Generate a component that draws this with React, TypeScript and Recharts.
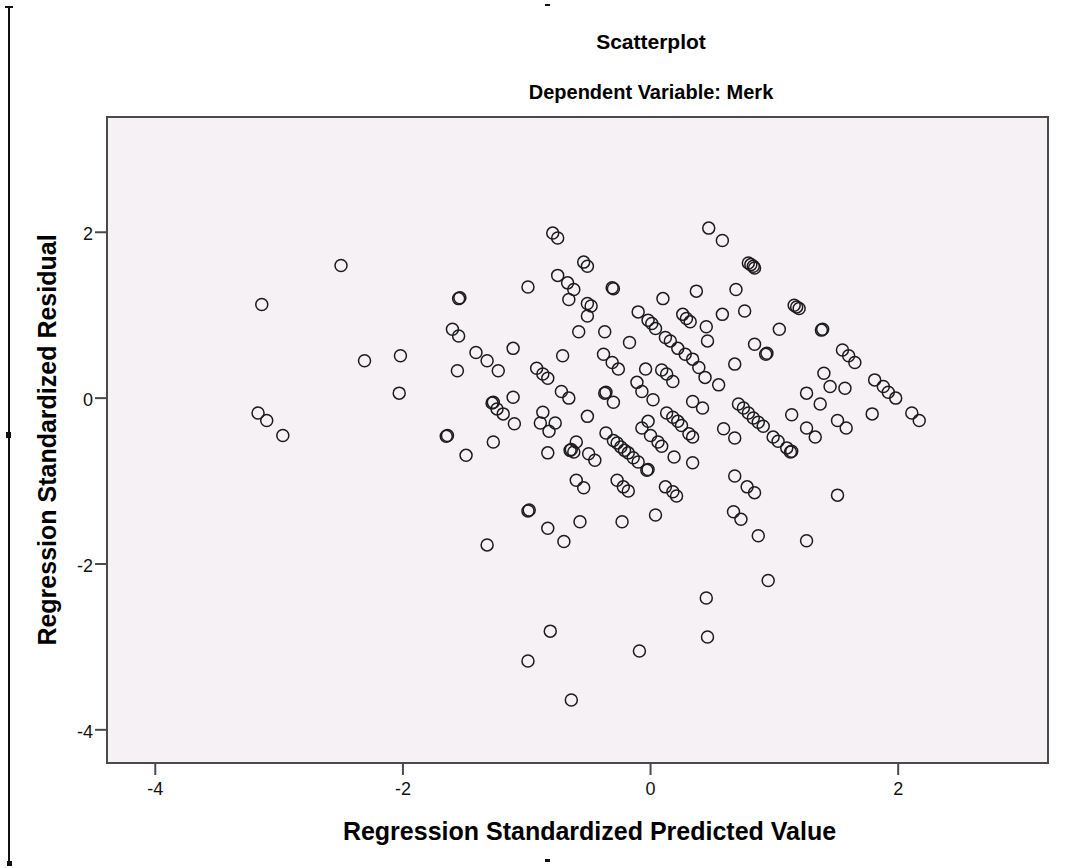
import { ScatterChart, Scatter, XAxis, YAxis, CartesianGrid, ReferenceArea } from 'recharts'

// standardized predicted values (x) and residuals (y)
const predicted = [
  -3.14, -3.17, -3.1, -2.97, -2.5, -2.31, -2.02, -2.03, -1.65, -1.64,
  -1.55, -1.54, -1.6, -1.55, -1.56, -1.49, -1.41, -1.32, -1.23, -1.11,
  -0.99, -0.79, -0.75, -0.54, -0.51, -0.75, -0.67, -0.62, -0.66, -0.51,
  -0.48, -0.51, -0.31, -0.3, 0.1, 0.37, -0.1, -0.02, 0.01, 0.04,
  0.26, 0.29, 0.32, 0.45, 0.46, 0.12, 0.16, 0.22, 0.28, 0.34,
  0.39, 0.44, -0.58, -0.37, -0.17, -0.71, -0.38, -0.31, -0.26, -0.04,
  0.09, 0.13, 0.18, -0.92, -0.87, -0.83, -0.11, 0.47, 0.58, 0.79,
  0.81, 0.83, 0.84, 0.69, 1.16, 1.18, 1.2, 0.58, 0.76, 1.04,
  1.38, 1.39, 0.84, 0.93, 0.94, 0.68, 1.55, 1.6, 1.65, 1.4,
  0.55, 1.81, 1.88, 1.45, 1.57, 1.92, 1.98, -1.11, -1.28, -1.27,
  -1.24, -1.19, -1.1, -1.27, -0.72, -0.66, -0.87, -0.89, -0.77, -0.82,
  -0.83, -0.51, -0.6, -0.65, -0.64, -0.62, -0.5, -0.45, -0.37, -0.36,
  -0.3, -0.36, -0.3, -0.27, -0.24, -0.21, -0.18, -0.14, -0.1, -0.03,
  -0.02, -0.6, -0.54, -0.27, -0.22, -0.18, -0.07, 0.02, -0.02, -0.07,
  0.0, 0.06, 0.09, 0.13, 0.18, 0.22, 0.25, 0.19, 0.31, 0.34,
  0.34, 0.42, 0.34, 0.12, 0.18, 0.21, -0.99, -0.98, -0.83, -0.57,
  -0.23, 0.04, -0.7, -1.32, 0.71, 0.75, 0.79, 0.83, 0.87, 0.91,
  0.59, 0.68, 0.99, 1.03, 1.1, 1.13, 1.14, 1.14, 1.26, 1.37,
  1.33, 1.26, 1.51, 1.58, 1.79, 2.11, 2.17, 0.68, 0.78, 0.84,
  1.51, 0.67, 0.73, 0.87, 1.26, -0.81, -0.99, -0.09, -0.64, 0.95,
  0.45, 0.46,
]

const residual = [
  1.13, -0.18, -0.27, -0.45, 1.6, 0.45, 0.51, 0.06, -0.46, -0.45,
  1.2, 1.21, 0.83, 0.75, 0.33, -0.69, 0.55, 0.45, 0.33, 0.6,
  1.34, 1.99, 1.93, 1.64, 1.59, 1.48, 1.39, 1.31, 1.19, 1.14,
  1.11, 0.99, 1.33, 1.32, 1.2, 1.29, 1.04, 0.94, 0.9, 0.84,
  1.01, 0.96, 0.92, 0.86, 0.69, 0.73, 0.69, 0.6, 0.53, 0.47,
  0.37, 0.25, 0.8, 0.8, 0.67, 0.51, 0.53, 0.43, 0.35, 0.35,
  0.34, 0.29, 0.2, 0.36, 0.29, 0.24, 0.19, 2.05, 1.9, 1.63,
  1.61, 1.59, 1.57, 1.31, 1.12, 1.1, 1.08, 1.01, 1.05, 0.83,
  0.82, 0.83, 0.65, 0.53, 0.54, 0.41, 0.58, 0.51, 0.43, 0.3,
  0.16, 0.22, 0.14, 0.14, 0.12, 0.07, 0.0, 0.01, -0.06, -0.05,
  -0.13, -0.19, -0.31, -0.53, 0.08, 0.0, -0.17, -0.3, -0.3, -0.4,
  -0.66, -0.22, -0.53, -0.63, -0.62, -0.65, -0.67, -0.75, 0.06, 0.07,
  -0.05, -0.42, -0.51, -0.54, -0.59, -0.63, -0.66, -0.72, -0.77, -0.87,
  -0.86, -0.99, -1.08, -0.99, -1.07, -1.12, 0.08, -0.02, -0.28, -0.36,
  -0.45, -0.53, -0.58, -0.18, -0.23, -0.28, -0.33, -0.71, -0.43, -0.47,
  -0.04, -0.12, -0.78, -1.07, -1.13, -1.18, -1.36, -1.35, -1.57, -1.49,
  -1.49, -1.41, -1.73, -1.77, -0.07, -0.12, -0.18, -0.24, -0.29, -0.34,
  -0.37, -0.48, -0.47, -0.52, -0.6, -0.65, -0.64, -0.2, 0.06, -0.07,
  -0.47, -0.36, -0.27, -0.36, -0.19, -0.18, -0.27, -0.94, -1.07, -1.14,
  -1.17, -1.37, -1.46, -1.66, -1.72, -2.81, -3.17, -3.05, -3.64, -2.2,
  -2.41, -2.88,
]

const axisTicks = [-4, -2, 0, 2]
const xDomain = [-4.39, 3.21]
const yDomain = [-4.4, 3.39]

const data = predicted.map((x, i) => ({ x, y: residual[i] }))

const FONT = '"Liberation Sans", Arial, sans-serif'

const OpenCircle = (props: any) => (
  <circle cx={props.cx} cy={props.cy} r={6} fill="none" stroke="#1c1c1c" strokeWidth={1.5} />
)

const XTick = ({ x, y, payload }: any) => (
  <text x={x} y={y + 18} textAnchor="middle" style={{ fontSize: 18, fontFamily: FONT, fill: '#111' }}>
    {payload.value}
  </text>
)

const YTick = ({ x, y, payload }: any) => (
  <text x={x} y={y + 8} textAnchor="end" style={{ fontSize: 18, fontFamily: FONT, fill: '#111' }}>
    {payload.value}
  </text>
)

export default function App() {
  return (
    <div style={{ position: 'absolute', left: 0, top: 0, width: 1075, height: 868, background: '#fff', fontFamily: FONT }}>
      {/* selection frame bits around the output object */}
      <div style={{ position: 'absolute', left: 8, top: 7, width: 2, height: 856, background: '#111' }} />
      <div style={{ position: 'absolute', left: 5, top: 6, width: 8, height: 2, background: '#111' }} />
      <div style={{ position: 'absolute', left: 6, top: 432, width: 5, height: 6, background: '#111' }} />
      <div style={{ position: 'absolute', left: 7, top: 861, width: 5, height: 5, background: '#111' }} />
      <div style={{ position: 'absolute', left: 545, top: 4, width: 5, height: 2, background: '#111' }} />
      <div style={{ position: 'absolute', left: 545, top: 859, width: 5, height: 3, background: '#111' }} />

      <div style={{ position: 'absolute', left: 0, width: 1302, top: 30, textAlign: 'center', fontSize: 21, fontWeight: 'bold' }}>
        Scatterplot
      </div>
      <div style={{ position: 'absolute', left: 0, width: 1302, top: 81, textAlign: 'center', fontSize: 20, fontWeight: 'bold' }}>
        Dependent Variable: Merk
      </div>

      <ScatterChart width={1075} height={868} margin={{ top: 117, right: 27, left: 0, bottom: 0 }}>
        <CartesianGrid horizontal={false} vertical={false} fill="#f5f1f5" />
        <ReferenceArea
          x1={xDomain[0]}
          x2={xDomain[1]}
          y1={yDomain[0]}
          y2={yDomain[1]}
          fill="#f5f1f5"
          fillOpacity={1}
          stroke="#4a4a4a"
          strokeWidth={2}
        />
        <XAxis
          type="number"
          dataKey="x"
          domain={xDomain}
          ticks={axisTicks}
          allowDataOverflow
          height={105}
          tickSize={12}
          tick={XTick}
          stroke="#4a4a4a"
          strokeWidth={2}
          label={{
            value: 'Regression Standardized Predicted Value',
            position: 'insideBottom',
            offset: 28,
            dx: 12,
            style: { fontSize: 25, fontWeight: 'bold', fill: '#000', fontFamily: FONT },
          }}
        />
        <YAxis
          type="number"
          dataKey="y"
          domain={yDomain}
          ticks={axisTicks}
          allowDataOverflow
          width={107}
          tickSize={12}
          tick={YTick}
          stroke="#4a4a4a"
          strokeWidth={2}
          label={{
            value: 'Regression Standardized Residual',
            angle: -90,
            position: 'insideLeft',
            offset: 47,
            style: { textAnchor: 'middle', fontSize: 25, fontWeight: 'bold', fill: '#000', fontFamily: FONT },
          }}
        />
        <Scatter data={data} shape={OpenCircle} isAnimationActive={false} />
      </ScatterChart>
    </div>
  )
}
